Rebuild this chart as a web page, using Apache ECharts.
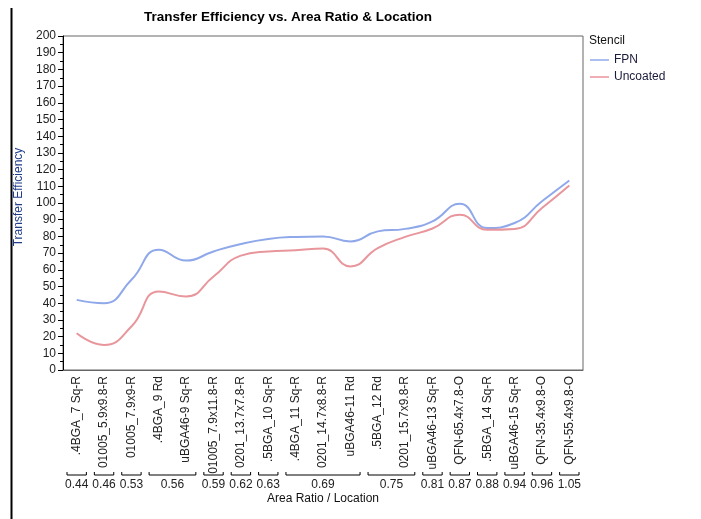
<!DOCTYPE html>
<html>
<head>
<meta charset="utf-8">
<script src="https://cdn.jsdelivr.net/npm/echarts@6/dist/echarts.min.js"></script>
<style>
  html, body { margin: 0; padding: 0; background: #fff; }
  #chart { width: 701px; height: 519px; }
</style>
</head>
<body>
<div id="chart"></div>
<script>
// ---- data ----
const categories = [
  '.4BGA_7 Sq-R', '01005_5.9x9.8-R', '01005_7.9x9-R', '.4BGA_9 Rd', 'uBGA46-9 Sq-R',
  '01005_7.9x11.8-R', '0201_13.7x7.8-R', '.5BGA_10 Sq-R', '.4BGA_11 Sq-R', '0201_14.7x8.8-R',
  'uBGA46-11 Rd', '.5BGA_12 Rd', '0201_15.7x9.8-R', 'uBGA46-13 Sq-R', 'QFN-65.4x7.8-O',
  '.5BGA_14 Sq-R', 'uBGA46-15 Sq-R', 'QFN-35.4x9.8-O', 'QFN-55.4x9.8-O'
];
const fpnValues = [42, 40, 54, 72, 65.5, 71, 75.5, 78.5, 79.7, 80, 77, 83, 84.5, 89, 99.5, 85, 88, 101, 113.5];
const uncoatedValues = [22, 15, 26, 47, 44, 56, 68.5, 71, 71.7, 72.7, 62, 73, 79.7, 84.7, 93, 84, 84.5, 97, 110.5];
// area ratio groups: [first category index, last category index]
const groupRanges = [[0,0],[1,1],[2,2],[3,4],[5,5],[6,6],[7,7],[8,10],[11,12],[13,13],[14,14],[15,15],[16,16],[17,17],[18,18]];
const groupLabels = ['0.44','0.46','0.53','0.56','0.59','0.62','0.63','0.69','0.75','0.81','0.87','0.88','0.94','0.96','1.05'];
const yTickMin = 0, yTickMax = 200, yTickStep = 10;

const FONT = 'Arial, "Liberation Sans", sans-serif';
const chart = echarts.init(document.getElementById('chart'));

const option = {
  animation: false,
  backgroundColor: '#fff',
  textStyle: { fontFamily: FONT },
  grid: {
    left: 63, right: 118, top: 36, bottom: 149,
    show: true, borderColor: '#666', borderWidth: 1, containLabel: false
  },
  legend: {
    orient: 'vertical',
    left: 585, top: 48,
    icon: 'rect',
    itemWidth: 19, itemHeight: 1, itemGap: 3,
    textStyle: { fontFamily: FONT, fontSize: 12, color: '#1a1a3a', lineHeight: 14 },
    data: [
      { name: 'FPN', itemStyle: { color: '#5a7de0' } },
      { name: 'Uncoated', itemStyle: { color: '#e05a68' } }
    ]
  },
  xAxis: {
    type: 'category',
    data: categories,
    boundaryGap: true,
    axisLine: { show: true, lineStyle: { color: '#666', width: 1 } },
    axisTick: { show: false },
    axisLabel: {
      rotate: 90, interval: 0, margin: 6,
      fontFamily: FONT, fontSize: 12, color: '#222'
    },
    name: 'Area Ratio / Location',
    nameLocation: 'middle',
    nameGap: 123,
    nameTextStyle: { fontFamily: FONT, fontSize: 12, color: '#111' },
    splitLine: { show: false }
  },
  yAxis: {
    type: 'value',
    min: yTickMin, max: yTickMax, interval: yTickStep,
    axisLine: { show: true, lineStyle: { color: '#000', width: 1 } },
    axisTick: { show: true, inside: false, length: 5, lineStyle: { color: '#000' } },
    minorTick: { show: true, splitNumber: 2, length: 3, lineStyle: { color: '#000' } },
    axisLabel: { margin: 7, fontFamily: FONT, fontSize: 12, color: '#222' },
    splitLine: { show: false }
  },
  series: [
    {
      name: 'FPN', type: 'line', data: fpnValues,
      smooth: 0.5, symbol: 'none',
      lineStyle: { color: '#8fa8ea', width: 2 },
      itemStyle: { color: '#8fa8ea' }
    },
    {
      name: 'Uncoated', type: 'line', data: uncoatedValues,
      smooth: 0.5, symbol: 'none',
      lineStyle: { color: '#e8969c', width: 2 },
      itemStyle: { color: '#e8969c' }
    },
    {
      name: 'groups', type: 'custom', silent: true, clip: false,
      data: groupRanges.map(r => [r[0], r[1]]),
      encode: { x: [0, 1] },
      renderItem: function (params, api) {
        const s = api.value(0), e = api.value(1);
        const bw = api.size([1, 0])[0];
        const p0 = api.coord([s, 0]);
        const p1 = api.coord([e, 0]);
        const x0 = p0[0] - bw / 2 + 4;
        const x1 = p1[0] + bw / 2 - 4;
        const yb = p0[1] + 105;
        return {
          type: 'group',
          children: [
            {
              type: 'polyline',
              shape: { points: [[x0, yb - 3], [x0, yb], [x1, yb], [x1, yb - 3]] },
              style: { stroke: '#000', lineWidth: 1, fill: null }
            },
            {
              type: 'text',
              style: {
                text: groupLabels[params.dataIndex],
                x: (x0 + x1) / 2, y: yb + 10,
                textAlign: 'center', textVerticalAlign: 'middle',
                font: '12px ' + FONT, fill: '#222'
              }
            }
          ]
        };
      }
    }
  ],
  graphic: [
    {
      type: 'text',
      left: 144, top: 10,
      style: { text: 'Transfer Efficiency vs. Area Ratio & Location', font: 'bold 13.5px ' + FONT, fill: '#000' }
    },
    {
      type: 'text',
      x: 19, y: 197, rotation: Math.PI / 2,
      style: { text: 'Transfer Efficiency', font: '12px ' + FONT, fill: '#1f3c88', textAlign: 'center', textVerticalAlign: 'middle' }
    },
    {
      type: 'text',
      left: 589, top: 35,
      style: { text: 'Stencil', font: '12px ' + FONT, fill: '#111' }
    },
    {
      type: 'line',
      shape: { x1: 11.5, y1: 8, x2: 11.5, y2: 519 },
      style: { stroke: '#000', lineWidth: 2 }
    }
  ]
};
chart.setOption(option);
</script>
</body>
</html>
